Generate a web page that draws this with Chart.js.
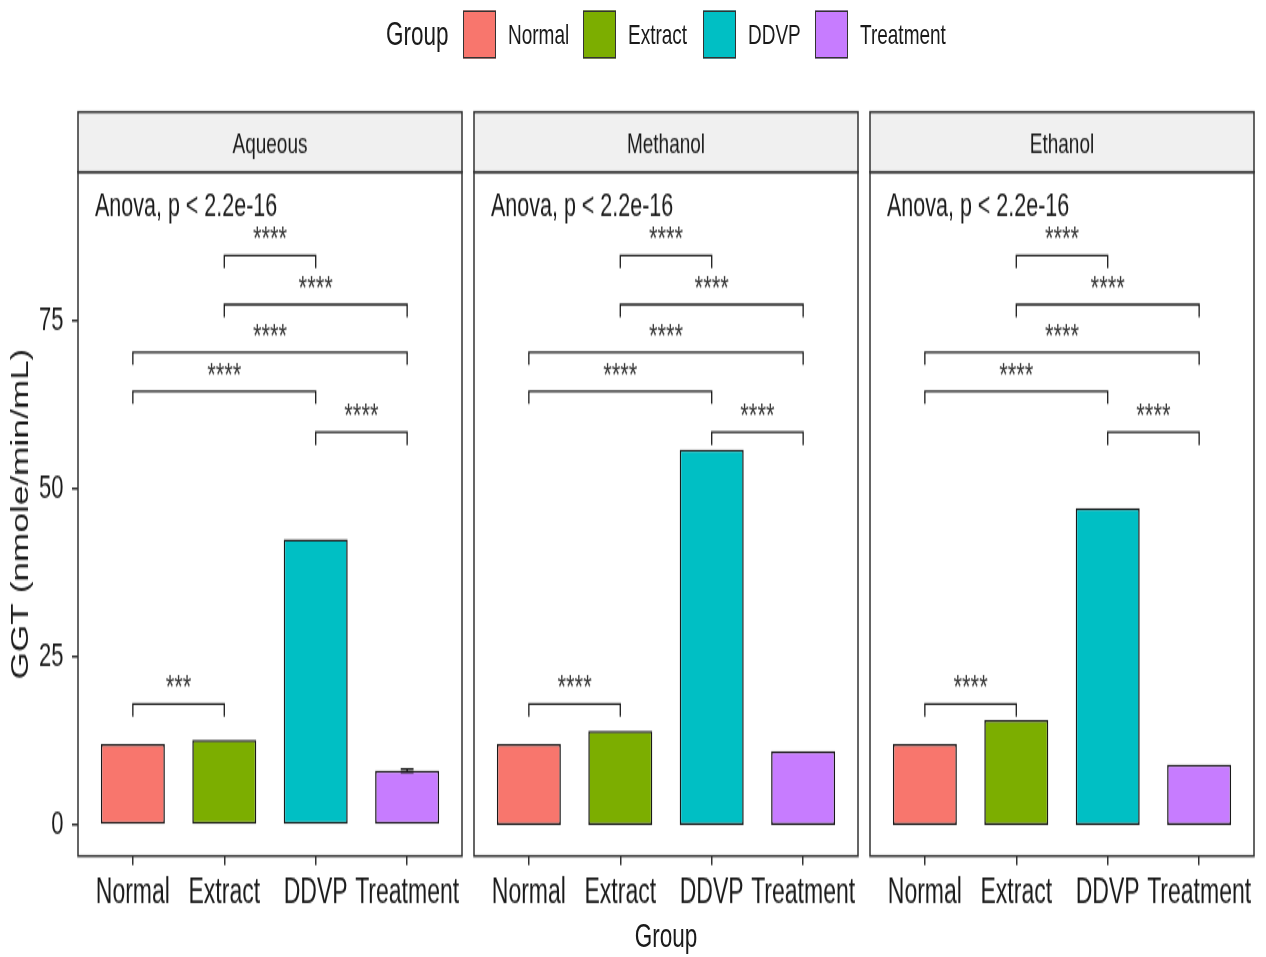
<!DOCTYPE html>
<html>
<head>
<meta charset="utf-8">
<script src="https://cdn.jsdelivr.net/npm/chart.js@4"></script>
<style>
  html, body { margin: 0; padding: 0; background: #ffffff; }
  #stage {
    position: absolute; left: 0; top: 0; width: 1266px; height: 638px;
    transform: scaleY(1.5); transform-origin: 0 0;
    font-family: "Liberation Sans", Arial, sans-serif; color: #1a1a1a;
  }
  #stage canvas { position: absolute; left: 0; top: 0; }
  .row { position: absolute; top: 6.7px; height: 32px; display: flex; align-items: center; white-space: nowrap; }
  .key { width: 31px; height: 30px; border: 1.2px solid #333; }
  .lab { font-size: 19px; }
  #xtitle { position: absolute; left: 0; width: 1332px; top: 609px; height: 30px; line-height: 30px; text-align: center; font-size: 22.5px; }
</style>
</head>
<body>
<div id="stage">
  <div id="legend"></div>
  <canvas id="p0" width="1266" height="638"></canvas>
  <canvas id="p1" width="1266" height="638"></canvas>
  <canvas id="p2" width="1266" height="638"></canvas>
  <div id="xtitle">Group</div>
</div>
<script>
// ---- data ----
const groups = ['Normal', 'Extract', 'DDVP', 'Treatment'];
const extracts = ['Aqueous', 'Methanol', 'Ethanol'];
const aqueousGGT  = [12.05, 12.65, 42.5, 8.08];
const methanolGGT = [12.05, 14.0, 55.8, 11.0];
const ethanolGGT  = [12.05, 15.6, 47.1, 9.0];
// standard errors (0 = too small to show)
const aqueousSE  = [0, 0, 0, 0.22];
const methanolSE = [0, 0, 0, 0];
const ethanolSE  = [0, 0, 0, 0];
const yTicks = [0, 25, 50, 75];
// pairwise comparisons: pair, bracket height (GGT units), significance label per extract
const bracketPairs   = [['Extract', 'DDVP'], ['Extract', 'Treatment'], ['Normal', 'Treatment'],
                        ['Normal', 'DDVP'], ['DDVP', 'Treatment'], ['Normal', 'Extract']];
const bracketHeights = [84.7, 77.4, 70.3, 64.5, 58.4, 18.0];
const aqueousStars   = ['****', '****', '****', '****', '****', '***'];
const methanolStars  = ['****', '****', '****', '****', '****', '****'];
const ethanolStars   = ['****', '****', '****', '****', '****', '****'];
const anovaLabel = 'Anova, p < 2.2e-16';
const yTitle = 'GGT (nmole/min/mL)';

// ---- styling ----
const groupColors = ['#F8766D', '#7CAE00', '#00BFC4', '#C77CFF'];
const FONT = '"Liberation Sans", Arial, sans-serif';
const W = 1266, H = 638;
const PANELS = [[78, 462], [474, 858], [870, 1254]];
const PLOT_TOP = 114.7, PLOT_BOTTOM = 570.7, STRIP_H = 40, X_AXIS_H = 45, Y_AXIS_W = 78;
const TIP = 1.9;

// legend
(function buildLegend() {
  const legend = document.getElementById('legend');
  const title = document.createElement('div');
  title.className = 'row';
  title.style.left = '386px';
  title.style.fontSize = '22.5px';
  title.textContent = 'Group';
  legend.appendChild(title);
  const keyX = [463, 583, 703, 815];
  groups.forEach((g, i) => {
    const k = document.createElement('div');
    k.className = 'row';
    k.style.left = keyX[i] + 'px';
    k.innerHTML = '<div class="key" style="background:' + groupColors[i] + '"></div>' +
                  '<span class="lab" style="margin-left:12px">' + g + '</span>';
    legend.appendChild(k);
  });
})();

const panelDecor = {
  id: 'panelDecor',
  afterDatasetsDraw(chart, args, opts) {
    const { ctx, chartArea: a, scales: { x, y } } = chart;
    const vals = chart.data.datasets[0].data;
    ctx.save();
    // error bars
    ctx.strokeStyle = '#1a1a1a';
    ctx.lineWidth = 1.5;
    vals.forEach((p, i) => {
      const se = opts.se[i];
      if (!se) return;
      const cx = x.getPixelForValue(p.x);
      const hw = (x.getPixelForValue(1.07) - x.getPixelForValue(1));
      const lo = y.getPixelForValue(p.y - se), hi = y.getPixelForValue(p.y + se);
      ctx.beginPath();
      ctx.moveTo(cx, lo); ctx.lineTo(cx, hi);
      ctx.moveTo(cx - hw, lo); ctx.lineTo(cx + hw, lo);
      ctx.moveTo(cx - hw, hi); ctx.lineTo(cx + hw, hi);
      ctx.stroke();
    });
    // significance brackets
    ctx.lineWidth = 1.3;
    ctx.strokeStyle = '#1a1a1a';
    ctx.font = '22px ' + FONT;
    ctx.textAlign = 'center';
    ctx.textBaseline = 'alphabetic';
    bracketPairs.forEach((pair, i) => {
      const xa = x.getPixelForValue(groups.indexOf(pair[0]) + 1);
      const xb = x.getPixelForValue(groups.indexOf(pair[1]) + 1);
      const yl = y.getPixelForValue(bracketHeights[i]);
      const yt = y.getPixelForValue(bracketHeights[i] - TIP);
      ctx.beginPath();
      ctx.moveTo(xa, yt); ctx.lineTo(xa, yl); ctx.lineTo(xb, yl); ctx.lineTo(xb, yt);
      ctx.stroke();
      ctx.fillStyle = '#3a3a3a';
      ctx.fillText(opts.stars[i], (xa + xb) / 2, yl - 4);
    });
    // global test label
    ctx.fillStyle = '#1a1a1a';
    ctx.font = '21.5px ' + FONT;
    ctx.textAlign = 'left';
    ctx.fillText(anovaLabel, a.left + 17, a.top + 29.7);
    ctx.restore();
  },
  afterDraw(chart, args, opts) {
    const { ctx, chartArea: a } = chart;
    ctx.save();
    ctx.lineWidth = 1.5;
    ctx.strokeStyle = '#333333';
    ctx.strokeRect(a.left, a.top, a.right - a.left, a.bottom - a.top);
    ctx.fillStyle = '#F0F0F0';
    ctx.fillRect(a.left, a.top - STRIP_H, a.right - a.left, STRIP_H);
    ctx.strokeRect(a.left, a.top - STRIP_H, a.right - a.left, STRIP_H);
    ctx.fillStyle = '#1a1a1a';
    ctx.font = '19px ' + FONT;
    ctx.textAlign = 'center';
    ctx.textBaseline = 'middle';
    ctx.fillText(opts.strip, (a.left + a.right) / 2, a.top - STRIP_H / 2 + 2.5);
    ctx.restore();
  }
};

function makePanel(idx, values, se, stars) {
  const first = idx === 0;
  const [left, right] = PANELS[idx];
  return new Chart(document.getElementById('p' + idx), {
    type: 'bar',
    data: {
      datasets: [{
        data: values.map((v, i) => ({ x: i + 1, y: v })),
        backgroundColor: groupColors,
        borderColor: '#1a1a1a',
        borderWidth: 1.5,
        borderSkipped: false,
        barPercentage: 0.7,
        categoryPercentage: 1
      }]
    },
    options: {
      responsive: false,
      animation: false,
      devicePixelRatio: 1,
      layout: { padding: { left: first ? left - Y_AXIS_W : left, right: W - right, top: PLOT_TOP, bottom: H - PLOT_BOTTOM - X_AXIS_H } },
      plugins: {
        legend: { display: false },
        tooltip: { enabled: false },
        panelDecor: { strip: extracts[idx], se: se, stars: stars }
      },
      scales: {
        x: {
          type: 'linear', min: 0.4, max: 4.6, offset: false,
          afterBuildTicks: ax => { ax.ticks = groups.map((g, i) => ({ value: i + 1 })); },
          afterFit: s => { s.height = X_AXIS_H; },
          grid: { offset: false, drawOnChartArea: false, drawTicks: true, tickLength: 6, color: '#333333', lineWidth: 1.5 },
          border: { display: false },
          ticks: {
            autoSkip: false, maxRotation: 0, minRotation: 0, padding: 5,
            color: '#1a1a1a', font: { size: 23, family: FONT },
            callback: v => groups[v - 1]
          }
        },
        y: {
          type: 'linear', display: first, min: -4.62, max: 97.1,
          afterBuildTicks: ax => { ax.ticks = yTicks.map(v => ({ value: v })); },
          afterFit: s => { if (first) s.width = Y_AXIS_W; },
          grid: { drawOnChartArea: false, drawTicks: true, tickLength: 6, color: '#333333', lineWidth: 1.5 },
          border: { display: false },
          ticks: { padding: 8.5, color: '#1a1a1a', font: { size: 22, family: FONT } },
          title: { display: true, text: yTitle, color: '#1a1a1a', font: { size: 23.5, family: FONT }, padding: { top: 7, bottom: 0 } }
        }
      }
    },
    plugins: [panelDecor]
  });
}

makePanel(0, aqueousGGT, aqueousSE, aqueousStars);
makePanel(1, methanolGGT, methanolSE, methanolStars);
makePanel(2, ethanolGGT, ethanolSE, ethanolStars);
</script>
</body>
</html>
